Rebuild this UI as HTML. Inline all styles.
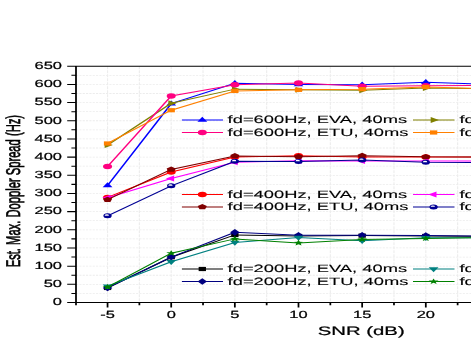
<!DOCTYPE html>
<html><head><meta charset="utf-8"><title>chart</title>
<style>html,body{margin:0;padding:0;background:#fff;overflow:hidden}svg{display:block;will-change:transform}text{text-rendering:geometricPrecision;stroke:#000;stroke-width:0.22px;font-family:"Liberation Sans",sans-serif;fill:#000}</style></head><body>
<svg width="471" height="339" viewBox="0 0 471 339">
<rect width="471" height="339" fill="#fff"/>
<g transform="scale(1.667,1)">
<path d="M45.59 293.41H285.54M45.59 284.32H285.54M45.59 275.24H285.54M45.59 266.15H285.54M45.59 257.06H285.54M45.59 247.97H285.54M45.59 238.89H285.54M45.59 229.80H285.54M45.59 220.71H285.54M45.59 211.62H285.54M45.59 202.54H285.54M45.59 193.45H285.54M45.59 184.36H285.54M45.59 175.28H285.54M45.59 166.19H285.54M45.59 157.10H285.54M45.59 148.01H285.54M45.59 138.93H285.54M45.59 129.84H285.54M45.59 120.75H285.54M45.59 111.66H285.54M45.59 102.58H285.54M45.59 93.49H285.54M45.59 84.40H285.54M45.59 75.31H285.54" stroke="#ececec" stroke-width="0.8" stroke-dasharray="1.3 0.7" fill="none"/>
<path d="M64.52 66.22V302.50M83.61 66.22V302.50M102.70 66.22V302.50M121.79 66.22V302.50M140.88 66.22V302.50M159.97 66.22V302.50M179.06 66.22V302.50M198.16 66.22V302.50M217.25 66.22V302.50M236.34 66.22V302.50M255.43 66.22V302.50M274.52 66.22V302.50" stroke="#ededed" stroke-width="0.7" stroke-dasharray="3 1" fill="none"/>
<polyline points="64.52,287.96 102.70,257.24 140.88,234.89 179.06,235.98 217.25,235.62 255.43,235.98 293.61,236.34" fill="none" stroke="#000000" stroke-width="1"/>
<rect x="62.32" y="285.86" width="4.4" height="4.2" fill="#000000"/>
<rect x="100.50" y="255.14" width="4.4" height="4.2" fill="#000000"/>
<rect x="138.68" y="232.79" width="4.4" height="4.2" fill="#000000"/>
<rect x="176.86" y="233.88" width="4.4" height="4.2" fill="#000000"/>
<rect x="215.05" y="233.52" width="4.4" height="4.2" fill="#000000"/>
<rect x="253.23" y="233.88" width="4.4" height="4.2" fill="#000000"/>
<rect x="291.41" y="234.24" width="4.4" height="4.2" fill="#000000"/>
<polyline points="64.52,197.45 102.70,172.00 140.88,157.10 179.06,155.65 217.25,157.10 255.43,156.92 293.61,157.10" fill="none" stroke="#ff0000" stroke-width="1"/>
<circle cx="64.52" cy="197.45" r="2.7" fill="#ff0000"/>
<circle cx="102.70" cy="172.00" r="2.7" fill="#ff0000"/>
<circle cx="140.88" cy="157.10" r="2.7" fill="#ff0000"/>
<circle cx="179.06" cy="155.65" r="2.7" fill="#ff0000"/>
<circle cx="217.25" cy="157.10" r="2.7" fill="#ff0000"/>
<circle cx="255.43" cy="156.92" r="2.7" fill="#ff0000"/>
<circle cx="293.61" cy="157.10" r="2.7" fill="#ff0000"/>
<polyline points="64.52,185.45 102.70,103.67 140.88,83.31 179.06,84.40 217.25,84.76 255.43,82.22 293.61,84.40" fill="none" stroke="#0000ff" stroke-width="1"/>
<path d="M61.57 187.20L67.47 187.20L64.52 182.25Z" fill="#0000ff"/>
<path d="M99.75 105.42L105.65 105.42L102.70 100.47Z" fill="#0000ff"/>
<path d="M137.93 85.06L143.83 85.06L140.88 80.11Z" fill="#0000ff"/>
<path d="M176.11 86.15L182.01 86.15L179.06 81.20Z" fill="#0000ff"/>
<path d="M214.30 86.51L220.20 86.51L217.25 81.56Z" fill="#0000ff"/>
<path d="M252.48 83.97L258.38 83.97L255.43 79.02Z" fill="#0000ff"/>
<path d="M290.66 86.15L296.56 86.15L293.61 81.20Z" fill="#0000ff"/>
<polyline points="64.52,197.81 102.70,178.55 140.88,162.37 179.06,160.74 217.25,161.10 255.43,160.92 293.61,161.10" fill="none" stroke="#ff00ff" stroke-width="1"/>
<path d="M66.27 194.86L66.27 200.76L61.32 197.81Z" fill="#ff00ff"/>
<path d="M104.45 175.60L104.45 181.50L99.50 178.55Z" fill="#ff00ff"/>
<path d="M142.63 159.42L142.63 165.32L137.68 162.37Z" fill="#ff00ff"/>
<path d="M180.81 157.79L180.81 163.69L175.86 160.74Z" fill="#ff00ff"/>
<path d="M219.00 158.15L219.00 164.05L214.05 161.10Z" fill="#ff00ff"/>
<path d="M257.18 157.97L257.18 163.87L252.23 160.92Z" fill="#ff00ff"/>
<path d="M295.36 158.15L295.36 164.05L290.41 161.10Z" fill="#ff00ff"/>
<polyline points="64.52,145.10 102.70,103.30 140.88,89.13 179.06,89.85 217.25,90.22 255.43,88.03 293.61,88.76" fill="none" stroke="#808000" stroke-width="1"/>
<path d="M62.77 142.15L62.77 148.05L67.72 145.10Z" fill="#808000"/>
<path d="M100.95 100.35L100.95 106.25L105.90 103.30Z" fill="#808000"/>
<path d="M139.13 86.18L139.13 92.08L144.08 89.13Z" fill="#808000"/>
<path d="M177.31 86.90L177.31 92.80L182.26 89.85Z" fill="#808000"/>
<path d="M215.50 87.27L215.50 93.17L220.45 90.22Z" fill="#808000"/>
<path d="M253.68 85.08L253.68 90.98L258.63 88.03Z" fill="#808000"/>
<path d="M291.86 85.81L291.86 91.71L296.81 88.76Z" fill="#808000"/>
<polyline points="64.52,287.96 102.70,257.06 140.88,232.34 179.06,235.25 217.25,235.25 255.43,235.62 293.61,235.98" fill="none" stroke="#000080" stroke-width="1"/>
<path d="M61.67 287.96L64.52 284.66L67.37 287.96L64.52 291.26Z" fill="#000080"/>
<path d="M99.85 257.06L102.70 253.76L105.55 257.06L102.70 260.36Z" fill="#000080"/>
<path d="M138.03 232.34L140.88 229.04L143.73 232.34L140.88 235.64Z" fill="#000080"/>
<path d="M176.21 235.25L179.06 231.95L181.91 235.25L179.06 238.55Z" fill="#000080"/>
<path d="M214.40 235.25L217.25 231.95L220.10 235.25L217.25 238.55Z" fill="#000080"/>
<path d="M252.58 235.62L255.43 232.32L258.28 235.62L255.43 238.92Z" fill="#000080"/>
<path d="M290.76 235.98L293.61 232.68L296.46 235.98L293.61 239.28Z" fill="#000080"/>
<polyline points="64.52,199.63 102.70,169.46 140.88,156.01 179.06,156.74 217.25,155.65 255.43,156.81 293.61,156.92" fill="none" stroke="#800000" stroke-width="1"/>
<path d="M64.52 196.73L67.28 198.73L66.22 201.98L62.81 201.98L61.76 198.73Z" fill="#800000"/>
<path d="M102.70 166.56L105.46 168.56L104.40 171.81L100.99 171.81L99.94 168.56Z" fill="#800000"/>
<path d="M140.88 153.11L143.64 155.11L142.59 158.36L139.18 158.36L138.12 155.11Z" fill="#800000"/>
<path d="M179.06 153.84L181.82 155.84L180.77 159.08L177.36 159.08L176.31 155.84Z" fill="#800000"/>
<path d="M217.25 152.75L220.00 154.75L218.95 157.99L215.54 157.99L214.49 154.75Z" fill="#800000"/>
<path d="M255.43 153.91L258.19 155.91L257.13 159.16L253.72 159.16L252.67 155.91Z" fill="#800000"/>
<path d="M293.61 154.02L296.37 156.02L295.32 159.26L291.91 159.26L290.85 156.02Z" fill="#800000"/>
<polyline points="64.52,166.55 102.70,96.03 140.88,84.76 179.06,82.95 217.25,86.22 255.43,85.67 293.61,85.49" fill="none" stroke="#ff0080" stroke-width="1"/>
<circle cx="64.52" cy="166.55" r="2.7" fill="#ff0080"/>
<circle cx="102.70" cy="96.03" r="2.7" fill="#ff0080"/>
<circle cx="140.88" cy="84.76" r="2.7" fill="#ff0080"/>
<circle cx="179.06" cy="82.95" r="2.7" fill="#ff0080"/>
<circle cx="217.25" cy="86.22" r="2.7" fill="#ff0080"/>
<circle cx="255.43" cy="85.67" r="2.7" fill="#ff0080"/>
<circle cx="293.61" cy="85.49" r="2.7" fill="#ff0080"/>
<polyline points="64.52,286.14 102.70,261.79 140.88,242.52 179.06,237.43 217.25,240.70 255.43,237.80 293.61,237.80" fill="none" stroke="#008080" stroke-width="1"/>
<path d="M61.57 284.39L67.47 284.39L64.52 289.34Z" fill="#008080"/>
<path d="M99.75 260.04L105.65 260.04L102.70 264.99Z" fill="#008080"/>
<path d="M137.93 240.77L143.83 240.77L140.88 245.72Z" fill="#008080"/>
<path d="M176.11 235.68L182.01 235.68L179.06 240.63Z" fill="#008080"/>
<path d="M214.30 238.95L220.20 238.95L217.25 243.90Z" fill="#008080"/>
<path d="M252.48 236.05L258.38 236.05L255.43 241.00Z" fill="#008080"/>
<path d="M290.66 236.05L296.56 236.05L293.61 241.00Z" fill="#008080"/>
<polyline points="64.52,215.81 102.70,185.82 140.88,161.28 179.06,161.46 217.25,160.01 255.43,162.37 293.61,162.55" fill="none" stroke="#000094" stroke-width="1"/>
<circle cx="64.52" cy="215.81" r="2.5" fill="#000094"/><path d="M62.77 215.66A1.3 1.45 0 0 1 65.37 215.66Z" fill="#fff"/>
<circle cx="102.70" cy="185.82" r="2.5" fill="#000094"/><path d="M100.95 185.67A1.3 1.45 0 0 1 103.55 185.67Z" fill="#fff"/>
<circle cx="140.88" cy="161.28" r="2.5" fill="#000094"/><path d="M139.13 161.13A1.3 1.45 0 0 1 141.73 161.13Z" fill="#fff"/>
<circle cx="179.06" cy="161.46" r="2.5" fill="#000094"/><path d="M177.31 161.31A1.3 1.45 0 0 1 179.91 161.31Z" fill="#fff"/>
<circle cx="217.25" cy="160.01" r="2.5" fill="#000094"/><path d="M215.50 159.86A1.3 1.45 0 0 1 218.10 159.86Z" fill="#fff"/>
<circle cx="255.43" cy="162.37" r="2.5" fill="#000094"/><path d="M253.68 162.22A1.3 1.45 0 0 1 256.28 162.22Z" fill="#fff"/>
<circle cx="293.61" cy="162.55" r="2.5" fill="#000094"/><path d="M291.86 162.40A1.3 1.45 0 0 1 294.46 162.40Z" fill="#fff"/>
<polyline points="64.52,143.47 102.70,110.21 140.88,90.94 179.06,89.85 217.25,89.13 255.43,86.94 293.61,88.76" fill="none" stroke="#ff8000" stroke-width="1"/>
<rect x="62.32" y="141.37" width="4.4" height="4.2" fill="#ff8000"/>
<rect x="100.50" y="108.11" width="4.4" height="4.2" fill="#ff8000"/>
<rect x="138.68" y="88.84" width="4.4" height="4.2" fill="#ff8000"/>
<rect x="176.86" y="87.75" width="4.4" height="4.2" fill="#ff8000"/>
<rect x="215.05" y="87.03" width="4.4" height="4.2" fill="#ff8000"/>
<rect x="253.23" y="84.84" width="4.4" height="4.2" fill="#ff8000"/>
<rect x="291.41" y="86.66" width="4.4" height="4.2" fill="#ff8000"/>
<polyline points="64.52,287.05 102.70,253.25 140.88,238.89 179.06,242.89 217.25,239.43 255.43,238.52 293.61,237.43" fill="none" stroke="#008000" stroke-width="1"/>
<path d="M64.52 283.95L65.31 285.96L67.47 286.09L65.80 287.47L66.34 289.56L64.52 288.40L62.69 289.56L63.23 287.47L61.57 286.09L63.72 285.96Z" fill="#008000"/>
<path d="M102.70 250.15L103.49 252.15L105.65 252.29L103.98 253.66L104.52 255.75L102.70 254.60L100.88 255.75L101.42 253.66L99.75 252.29L101.91 252.15Z" fill="#008000"/>
<path d="M140.88 235.79L141.68 237.80L143.83 237.93L142.17 239.30L142.70 241.40L140.88 240.24L139.06 241.40L139.60 239.30L137.93 237.93L140.09 237.80Z" fill="#008000"/>
<path d="M179.06 239.79L179.86 241.79L182.01 241.93L180.35 243.30L180.89 245.39L179.06 244.24L177.24 245.39L177.78 243.30L176.12 241.93L178.27 241.79Z" fill="#008000"/>
<path d="M217.25 236.33L218.04 238.34L220.19 238.47L218.53 239.85L219.07 241.94L217.25 240.78L215.42 241.94L215.96 239.85L214.30 238.47L216.45 238.34Z" fill="#008000"/>
<path d="M255.43 235.42L256.22 237.43L258.38 237.57L256.71 238.94L257.25 241.03L255.43 239.87L253.61 241.03L254.14 238.94L252.48 237.57L254.64 237.43Z" fill="#008000"/>
<path d="M293.61 234.33L294.40 236.34L296.56 236.48L294.90 237.85L295.43 239.94L293.61 238.78L291.79 239.94L292.33 237.85L290.66 236.48L292.82 236.34Z" fill="#008000"/>
<path d="M109.12 120.0H133.77" stroke="#0000ff" stroke-width="1"/>
<path d="M118.41 121.75L124.31 121.75L121.36 116.80Z" fill="#0000ff"/>
<path d="M109.12 132.5H133.77" stroke="#ff0080" stroke-width="1"/>
<circle cx="121.36" cy="132.50" r="2.7" fill="#ff0080"/>
<path d="M109.12 194.5H133.77" stroke="#ff0000" stroke-width="1"/>
<circle cx="121.36" cy="194.50" r="2.7" fill="#ff0000"/>
<path d="M109.12 207.0H133.77" stroke="#800000" stroke-width="1"/>
<path d="M121.36 204.10L124.11 206.10L123.06 209.35L119.65 209.35L118.60 206.10Z" fill="#800000"/>
<path d="M109.12 269.0H133.77" stroke="#000000" stroke-width="1"/>
<rect x="119.16" y="266.90" width="4.4" height="4.2" fill="#000000"/>
<path d="M109.12 281.5H133.77" stroke="#000080" stroke-width="1"/>
<path d="M118.51 281.50L121.36 278.20L124.21 281.50L121.36 284.80Z" fill="#000080"/>
<path d="M247.75 120.0H272.65" stroke="#808000" stroke-width="1"/>
<path d="M258.36 117.05L258.36 122.95L263.31 120.00Z" fill="#808000"/>
<path d="M247.75 132.5H272.65" stroke="#ff8000" stroke-width="1"/>
<rect x="257.91" y="130.40" width="4.4" height="4.2" fill="#ff8000"/>
<path d="M247.75 194.5H272.65" stroke="#ff00ff" stroke-width="1"/>
<path d="M261.86 191.55L261.86 197.45L256.91 194.50Z" fill="#ff00ff"/>
<path d="M247.75 207.0H272.65" stroke="#000094" stroke-width="1"/>
<circle cx="260.11" cy="207.00" r="2.5" fill="#000094"/><path d="M258.36 206.85A1.3 1.45 0 0 1 260.96 206.85Z" fill="#fff"/>
<path d="M247.75 269.0H272.65" stroke="#008080" stroke-width="1"/>
<path d="M257.16 267.25L263.06 267.25L260.11 272.20Z" fill="#008080"/>
<path d="M247.75 281.5H272.65" stroke="#008000" stroke-width="1"/>
<path d="M260.11 278.40L260.90 280.41L263.06 280.54L261.39 281.92L261.93 284.01L260.11 282.85L258.29 284.01L258.82 281.92L257.16 280.54L259.31 280.41Z" fill="#008000"/>
<path d="M45.59 65.72V305.30M40.31 302.50H285.54M40.31 66.22H285.54M40.31 284.32H45.59M40.31 266.15H45.59M40.31 247.97H45.59M40.31 229.80H45.59M40.31 211.62H45.59M40.31 193.45H45.59M40.31 175.28H45.59M40.31 157.10H45.59M40.31 138.93H45.59M40.31 120.75H45.59M40.31 102.58H45.59M40.31 84.40H45.59M42.83 293.41H45.59M42.83 275.24H45.59M42.83 257.06H45.59M42.83 238.89H45.59M42.83 220.71H45.59M42.83 202.54H45.59M42.83 184.36H45.59M42.83 166.19H45.59M42.83 148.01H45.59M42.83 129.84H45.59M42.83 111.66H45.59M42.83 93.49H45.59M42.83 75.31H45.59M64.52 302.50V307.50M102.70 302.50V307.50M140.88 302.50V307.50M179.06 302.50V307.50M217.25 302.50V307.50M255.43 302.50V307.50M293.61 302.50V307.50M83.61 302.50V305.30M121.79 302.50V305.30M159.97 302.50V305.30M198.16 302.50V305.30M236.34 302.50V305.30M274.52 302.50V305.30M312.70 302.50V305.30" stroke="#000" stroke-width="1.05" fill="none"/>
</g>
<text transform="translate(62.00,305.30) scale(1.58,1)" font-size="10.4" text-anchor="end">0</text>
<text transform="translate(62.00,287.12) scale(1.58,1)" font-size="10.4" text-anchor="end">50</text>
<text transform="translate(62.00,268.95) scale(1.58,1)" font-size="10.4" text-anchor="end">100</text>
<text transform="translate(62.00,250.78) scale(1.58,1)" font-size="10.4" text-anchor="end">150</text>
<text transform="translate(62.00,232.60) scale(1.58,1)" font-size="10.4" text-anchor="end">200</text>
<text transform="translate(62.00,214.43) scale(1.58,1)" font-size="10.4" text-anchor="end">250</text>
<text transform="translate(62.00,196.25) scale(1.58,1)" font-size="10.4" text-anchor="end">300</text>
<text transform="translate(62.00,178.08) scale(1.58,1)" font-size="10.4" text-anchor="end">350</text>
<text transform="translate(62.00,159.90) scale(1.58,1)" font-size="10.4" text-anchor="end">400</text>
<text transform="translate(62.00,141.73) scale(1.58,1)" font-size="10.4" text-anchor="end">450</text>
<text transform="translate(62.00,123.55) scale(1.58,1)" font-size="10.4" text-anchor="end">500</text>
<text transform="translate(62.00,105.38) scale(1.58,1)" font-size="10.4" text-anchor="end">550</text>
<text transform="translate(62.00,87.20) scale(1.58,1)" font-size="10.4" text-anchor="end">600</text>
<text transform="translate(62.00,69.02) scale(1.58,1)" font-size="10.4" text-anchor="end">650</text>
<text transform="translate(107.55,317.60) scale(1.58,1)" font-size="10.4" text-anchor="middle">-5</text>
<text transform="translate(171.20,317.60) scale(1.58,1)" font-size="10.4" text-anchor="middle">0</text>
<text transform="translate(234.85,317.60) scale(1.58,1)" font-size="10.4" text-anchor="middle">5</text>
<text transform="translate(298.50,317.60) scale(1.58,1)" font-size="10.4" text-anchor="middle">10</text>
<text transform="translate(362.15,317.60) scale(1.58,1)" font-size="10.4" text-anchor="middle">15</text>
<text transform="translate(425.80,317.60) scale(1.58,1)" font-size="10.4" text-anchor="middle">20</text>
<text transform="translate(361.20,335.20) scale(1.667,1)" font-size="12.2" text-anchor="middle">SNR (dB)</text>
<text transform="translate(227.60,123.40) scale(1.73,1)" font-size="10.6" text-anchor="start" style="stroke-width:0.1px">fd=600Hz, EVA, 40ms</text>
<text transform="translate(459.50,123.40) scale(1.73,1)" font-size="10.6" text-anchor="start" style="stroke-width:0.1px">fd=</text>
<text transform="translate(227.60,135.90) scale(1.73,1)" font-size="10.6" text-anchor="start" style="stroke-width:0.1px">fd=600Hz, ETU, 40ms</text>
<text transform="translate(459.50,135.90) scale(1.73,1)" font-size="10.6" text-anchor="start" style="stroke-width:0.1px">fd=</text>
<text transform="translate(227.60,197.90) scale(1.73,1)" font-size="10.6" text-anchor="start" style="stroke-width:0.1px">fd=400Hz, EVA, 40ms</text>
<text transform="translate(459.50,197.90) scale(1.73,1)" font-size="10.6" text-anchor="start" style="stroke-width:0.1px">fd=</text>
<text transform="translate(227.60,210.40) scale(1.73,1)" font-size="10.6" text-anchor="start" style="stroke-width:0.1px">fd=400Hz, ETU, 40ms</text>
<text transform="translate(459.50,210.40) scale(1.73,1)" font-size="10.6" text-anchor="start" style="stroke-width:0.1px">fd=</text>
<text transform="translate(227.60,272.40) scale(1.73,1)" font-size="10.6" text-anchor="start" style="stroke-width:0.1px">fd=200Hz, EVA, 40ms</text>
<text transform="translate(459.50,272.40) scale(1.73,1)" font-size="10.6" text-anchor="start" style="stroke-width:0.1px">fd=</text>
<text transform="translate(227.60,284.90) scale(1.73,1)" font-size="10.6" text-anchor="start" style="stroke-width:0.1px">fd=200Hz, ETU, 40ms</text>
<text transform="translate(459.50,284.90) scale(1.73,1)" font-size="10.6" text-anchor="start" style="stroke-width:0.1px">fd=</text>
<text transform="translate(20.3,267.3) rotate(-90) scale(1,1.77)" font-size="11.2" style="stroke-width:0.4px">Est. Max. Doppler Spread (Hz)</text>
</svg></body></html>
